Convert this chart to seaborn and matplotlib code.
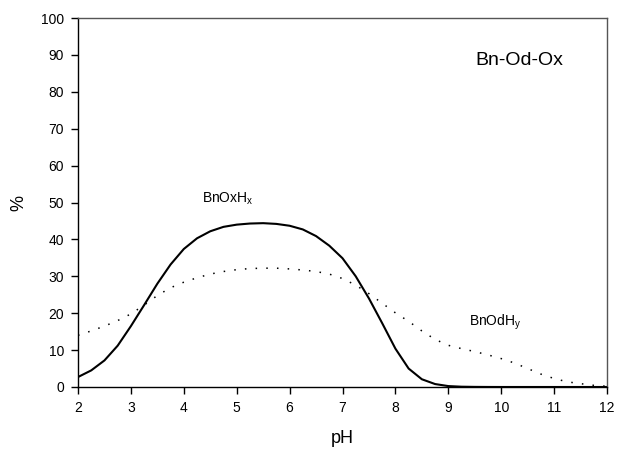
import matplotlib
matplotlib.use("Agg")
import matplotlib.pyplot as plt
import seaborn as sns
import pandas as pd

# Species distribution vs pH
ph = [2, 2.25, 2.5, 2.75, 3, 3.25, 3.5, 3.75, 4, 4.25, 4.5, 4.75, 5, 5.25, 5.5,
      5.75, 6, 6.25, 6.5, 6.75, 7, 7.25, 7.5, 7.75, 8, 8.25, 8.5, 8.75, 9, 9.25,
      9.5, 9.75, 10, 10.25, 10.5, 10.75, 11, 11.25, 11.5, 11.75, 12]

bnoxhx = [2.7, 4.5, 7.2, 11.2, 16.5, 22.2, 28.0, 33.2, 37.4, 40.3, 42.2, 43.4,
          44.0, 44.3, 44.4, 44.2, 43.7, 42.7, 40.9, 38.3, 34.9, 30.0, 24.0, 17.3,
          10.4, 5.0, 2.1, 0.8, 0.25, 0.08, 0.03, 0.01, 0, 0, 0, 0, 0, 0, 0, 0, 0]

bnodhy = [14.0, 15.2, 16.5, 18.0, 19.8, 22.2, 24.8, 26.9, 28.4, 29.6, 30.6, 31.3,
          31.8, 32.1, 32.2, 32.2, 32.0, 31.7, 31.3, 30.6, 29.4, 27.6, 25.3, 22.7,
          20.1, 17.8, 15.2, 12.9, 11.3, 10.4, 9.6, 8.7, 7.7, 6.5, 5.0, 3.5, 2.3,
          1.4, 0.9, 0.45, 0.2]

x_ticks = list(range(2, 13))
y_ticks = list(range(0, 101, 10))

sns.set_style("ticks")
plt.rcParams["font.family"] = ["Liberation Sans", "DejaVu Sans"]
plt.rcParams["text.color"] = "black"
plt.rcParams["axes.labelcolor"] = "black"

fig = plt.figure(figsize=(6.19, 4.49), dpi=100)
ax = fig.add_axes([78 / 619, 1 - 387 / 449, (607 - 78) / 619, (387 - 18) / 449])

df = pd.DataFrame({"pH": ph, "BnOxHx": bnoxhx, "BnOdHy": bnodhy})

sns.lineplot(data=df, x="pH", y="BnOxHx", ax=ax, color="black", lw=1.5,
             solid_joinstyle="round")
sns.lineplot(data=df, x="pH", y="BnOdHy", ax=ax, color="black", lw=1.1,
             linestyle=(0, (1, 6)))

ax.set_xlim(2, 12)
ax.set_ylim(0, 100)
ax.set_xticks(x_ticks)
ax.set_yticks(y_ticks)
ax.tick_params(direction="out", length=5, width=1, colors="black",
               labelsize=10, pad=5)
for side in ["left", "bottom"]:
    ax.spines[side].set_color("black")
    ax.spines[side].set_linewidth(1.0)
for side in ["top", "right"]:
    ax.spines[side].set_visible(True)
    ax.spines[side].set_color("#555555")
    ax.spines[side].set_linewidth(1.0)

ax.set_xlabel("pH", fontsize=13, labelpad=11)
ax.set_ylabel("%", fontsize=13, labelpad=10)

ax.text(10.35, 88.5, "Bn-Od-Ox", fontsize=14, ha="center", va="center")
ax.text(4.35, 51.0, r"BnOxH$_\mathregular{x}$", fontsize=10, ha="left", va="center")
ax.text(9.4, 17.5, r"BnOdH$_\mathregular{y}$", fontsize=10, ha="left", va="center")

fig.savefig("out.png", dpi=100)
